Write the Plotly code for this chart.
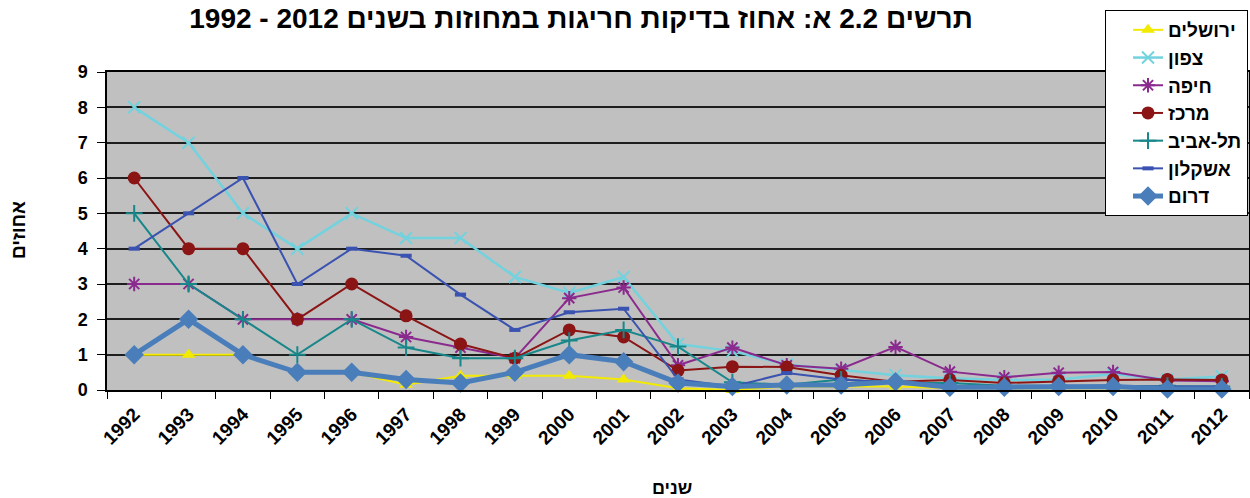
import plotly.graph_objects as go

years = [str(y) for y in range(1992, 2013)]

jerusalem = [1, 1, 1, 0.5, 0.5, 0.15, 0.4, 0.4, 0.4, 0.3, 0.05, 0, 0.1, 0.1, 0.1, 0.05, 0.05, 0.05, 0.05, 0.05, 0.05]
north = [8, 7, 5, 4, 5, 4.3, 4.3, 3.2, 2.75, 3.2, 1.3, 1.1, 0.72, 0.57, 0.42, 0.33, 0.28, 0.3, 0.45, 0.3, 0.38]
haifa = [3, 3, 2, 2, 2, 1.5, 1.2, 0.9, 2.6, 2.9, 0.7, 1.2, 0.7, 0.6, 1.22, 0.52, 0.36, 0.49, 0.51, 0.27, 0.25]
center = [6, 4, 4, 2, 3, 2.1, 1.3, 0.9, 1.7, 1.5, 0.55, 0.66, 0.65, 0.42, 0.23, 0.28, 0.2, 0.25, 0.28, 0.3, 0.28]
telaviv = [5, 3, 2, 1, 2, 1.2, 0.9, 0.9, 1.4, 1.7, 1.23, 0.22, 0.15, 0.3, 0.2, 0.2, 0.12, 0.12, 0.12, 0.12, 0.1]
ashkelon = [4, 5, 6, 3, 4, 3.8, 2.7, 1.7, 2.2, 2.3, 0.3, 0.1, 0.48, 0.3, 0.2, 0.12, 0.1, 0.1, 0.1, 0.1, 0.1]
south = [1, 2, 1, 0.5, 0.5, 0.3, 0.2, 0.5, 1, 0.8, 0.2, 0.1, 0.14, 0.14, 0.23, 0.08, 0.08, 0.1, 0.1, 0.03, 0.03]

names = ["ירושלים", "צפון", "חיפה", "מרכז", "תל-אביב", "אשקלון", "דרום"]

FONT = "Liberation Sans, Arial, sans-serif"

styles = [
    (jerusalem, "#F2EA00", 2, dict(symbol="triangle-up", size=12, color="#F2EA00")),
    (north, "#72D2DE", 2.5, dict(symbol="x-thin-open", size=12, color="#72D2DE", line=dict(width=2, color="#72D2DE"))),
    (haifa, "#8B2A8E", 2, dict(symbol="asterisk-open", size=12, color="#8B2A8E", line=dict(width=2, color="#8B2A8E"))),
    (center, "#8B1414", 2, dict(symbol="circle", size=13, color="#8B1414")),
    (telaviv, "#17878A", 2, dict(symbol="cross-thin-open", size=12, color="#17878A", line=dict(width=2, color="#17878A"))),
    (ashkelon, "#3A52B0", 2, dict(symbol="line-ew-open", size=8, color="#3A52B0", line=dict(width=4, color="#3A52B0"))),
    (south, "#4A7EBB", 5, dict(symbol="diamond", size=15, color="#4A7EBB")),
]

fig = go.Figure()
for i, (vals, col, lw, mk) in enumerate(styles):
    fig.add_trace(go.Scatter(
        x=years, y=vals, name=names[i], mode="lines+markers",
        line=dict(color=col, width=lw), marker=mk, cliponaxis=False,
        legendgroup=f"g{i}",
    ))

fig.update_layout(
    width=1250, height=498,
    margin=dict(l=107, r=1, t=72, b=108, autoexpand=False),
    paper_bgcolor="white",
    plot_bgcolor="#C0C0C0",
    font=dict(family=FONT, size=16, color="black"),
    title=dict(
        text="תרשים 2.2 א: אחוז בדיקות חריגות במחוזות בשנים 2012 - 1992",
        x=581 / 1250, xanchor="center", y=1 - 18 / 498, yanchor="middle",
        font=dict(family=FONT, size=28, weight="bold", color="black"),
    ),
    showlegend=True,
    legend=dict(
        x=(1248 - 107) / 1142, xanchor="right", y=(390 - 10) / 318, yanchor="top",
        bgcolor="white", bordercolor="black", borderwidth=1,
        font=dict(family=FONT, size=19, weight="bold", color="black"),
        tracegroupgap=7,
        indentation=22,
        traceorder="normal",
    ),
    xaxis=dict(
        type="category", range=[-0.5, 20.5], tickson="boundaries",
        ticks="outside", ticklen=7, tickcolor="black",
        tickangle=-45, tickfont=dict(family=FONT, size=19, weight="bold"),
        ticklabelstandoff=4,
        showline=True, linecolor="black", linewidth=1.5, mirror=True,
        showgrid=False, automargin=False,
    ),
    yaxis=dict(
        range=[0, 9], tickmode="linear", dtick=1, tick0=0,
        ticks="outside", ticklen=8, tickcolor="black",
        tickfont=dict(family=FONT, size=18, weight="bold"),
        ticklabelstandoff=6,
        showline=True, linecolor="black", linewidth=1.5, mirror=True,
        showgrid=True, gridcolor="#1E1E1E", gridwidth=1.5,
        zeroline=False, automargin=False,
    ),
    annotations=[
        dict(text="אחוזים", xref="paper", yref="paper",
             x=(18 - 107) / 1142, y=(390 - 230) / 318, textangle=-90,
             showarrow=False, xanchor="center", yanchor="middle",
             font=dict(family=FONT, size=19, weight="bold")),
        dict(text="שנים", xref="paper", yref="paper",
             x=(672 - 107) / 1142, y=(390 - 488) / 318,
             showarrow=False, xanchor="center", yanchor="middle",
             font=dict(family=FONT, size=18, weight="bold")),
    ],
)

fig.write_html(
    "out.html",
    config={"displayModeBar": False},
    post_script="document.body.style.margin='0';document.body.style.overflow='hidden';",
)
